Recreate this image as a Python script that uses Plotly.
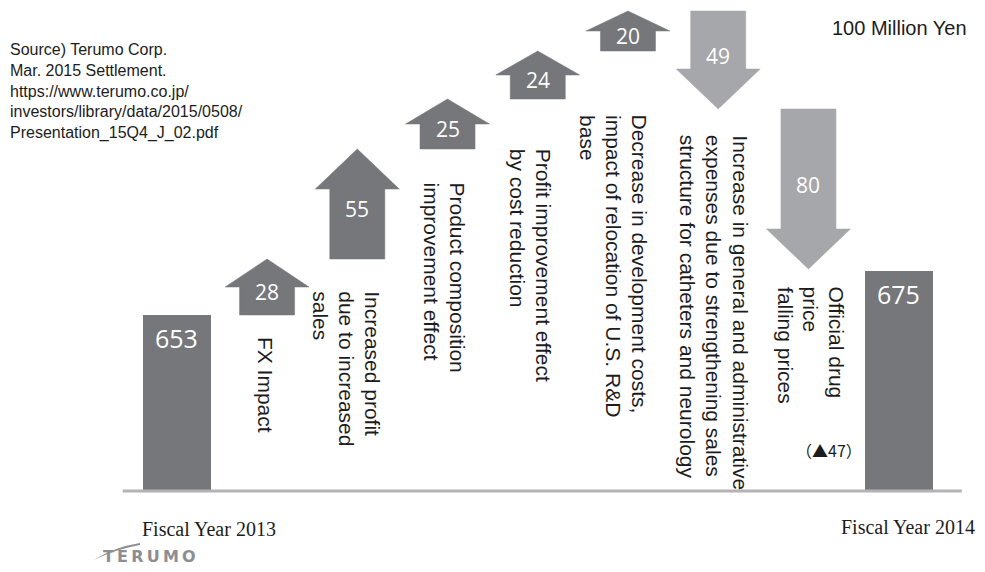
import plotly.graph_objects as go

# ---- data (100 million yen) ----
start_label = "Fiscal Year 2013"
end_label = "Fiscal Year 2014"
start_total = 653
end_total = 675
changes = [28, 55, 25, 24, 20, -49, -80]
change_lines = [
    ["FX Impact"],
    ["Increased profit", "due to increased", "sales"],
    ["Product composition", "improvement effect"],
    ["Profit improvement effect", "by cost reduction"],
    ["Decrease in development costs,", "impact of relocation of U.S. R&D", "base"],
    ["Increase in general and administrative",
     "expenses due to strengthening sales",
     "structure for catheters and neurology"],
    ["Official drug", "price", "falling prices"],
]
drug_price_note = "（▲47）"
unit_label = "100 Million Yen"
source_lines = [
    "Source) Terumo Corp.",
    "Mar. 2015 Settlement.",
    "https://www.terumo.co.jp/",
    "investors/library/data/2015/0508/",
    "Presentation_15Q4_J_02.pdf",
]
brand = "TERUMO"

# ---- styling / layout ----
W, H = 985, 572
DARK = "#76777b"
LIGHT = "#a6a7ab"
TEXT = "#1c1c1c"
FLOOR = 565            # value sitting on the drawn baseline
Y_RANGE = [524.5, 810.5]
X_RANGE = [-1.96, 8.957]
BAR_W = 0.754
BODY_HALF = 0.305
HEAD_HALF = 0.465
HEAD_LEN = 20
SANS = "Liberation Sans, Arial, sans-serif"
NUM_FONT = "Open Sans, sans-serif"
# per-label placement: first text column offset (px), gap below arrow (px)
col_offset = [-1, 15, 10, 6, 12, 22, 29]
top_gap = [20, 30, 31, 48, 62, 24, 16]
LINE_GAP = 26


def px_to_paper(px, py):
    return px / W, 1 - py / H


fig = go.Figure()

# totals at both ends
n = len(changes)
total_x = [0, n + 1]
total_y = [start_total, end_total]
fig.add_trace(go.Bar(
    x=total_x, y=[v - FLOOR for v in total_y], base=FLOOR, width=BAR_W,
    marker=dict(color=DARK, line=dict(width=0)), hoverinfo="skip",
))

annotations = []
for xv, v in zip(total_x, total_y):
    annotations.append(dict(
        x=xv, y=v, xref="x", yref="y", text=str(v), showarrow=False,
        yanchor="middle", yshift=-23,
        font=dict(family=NUM_FONT, size=25, color="white"),
    ))

# change arrows
level = start_total
for i, d in enumerate(changes):
    xc = i + 1
    y0, y1 = level, level + d
    sgn = 1 if d > 0 else -1
    h = min(abs(d) / 2, HEAD_LEN) * sgn
    yb = y1 - h
    xs = [xc - BODY_HALF, xc + BODY_HALF, xc + BODY_HALF, xc + HEAD_HALF, xc,
          xc - HEAD_HALF, xc - BODY_HALF, xc - BODY_HALF]
    ys = [y0, y0, yb, yb, y1, yb, yb, y0]
    color = DARK if d > 0 else LIGHT
    fig.add_trace(go.Scatter(
        x=xs, y=ys, mode="lines", fill="toself", fillcolor=color,
        line=dict(color=color, width=0.5), hoverinfo="skip",
    ))
    annotations.append(dict(
        x=xc, y=(y0 + y1) / 2, xref="x", yref="y", text=str(abs(d)),
        showarrow=False, yanchor="middle", yshift=-5 if d > 0 else 4,
        font=dict(family=NUM_FONT, size=21, color="white"),
    ))
    low = min(y0, y1)
    for j, line in enumerate(change_lines[i]):
        annotations.append(dict(
            x=xc, y=low, xref="x", yref="y", text=line, showarrow=False,
            textangle=90, xanchor="center", yanchor="top",
            xshift=col_offset[i] - j * LINE_GAP, yshift=-top_gap[i],
            font=dict(family=SANS, size=21, color=TEXT),
        ))
    level = y1

# baseline
fig.add_shape(type="line", xref="x", yref="y", x0=-0.6, x1=8.7, y0=FLOOR, y1=FLOOR,
              line=dict(color="#b3b3b5", width=3), layer="above")

# year captions
serif = dict(family="Liberation Serif, Times New Roman, serif", size=20, color=TEXT)
annotations.append(dict(x=0, y=FLOOR, xref="x", yref="y", text=start_label,
                        showarrow=False, xshift=32, yshift=-38, yanchor="middle",
                        font=serif))
annotations.append(dict(x=n + 1, y=FLOOR, xref="x", yref="y", text=end_label,
                        showarrow=False, xshift=9, yshift=-36, yanchor="middle",
                        font=serif))

# note under the drug price arrow
nx, ny = px_to_paper(864, 450)
annotations.append(dict(x=nx, y=ny, xref="paper", yref="paper", text=drug_price_note,
                        showarrow=False, xanchor="right", yanchor="middle",
                        font=dict(family="Noto Sans CJK JP, sans-serif", size=16,
                                  color=TEXT)))

# unit
ux, uy = px_to_paper(969, 28)
annotations.append(dict(x=ux, y=uy, xref="paper", yref="paper", text=unit_label,
                        showarrow=False, xanchor="right", yanchor="middle",
                        font=dict(family=SANS, size=20, color=TEXT)))

# source block
sx, sy = px_to_paper(8, 39)
annotations.append(dict(x=sx, y=sy, xref="paper", yref="paper",
                        text="<br>".join(source_lines), showarrow=False,
                        xanchor="left", yanchor="top", align="left",
                        font=dict(family=SANS, size=16, color=TEXT)))

# brand mark
bx, by = px_to_paper(101, 556)
annotations.append(dict(x=bx, y=by, xref="paper", yref="paper",
                        text="\u2009".join(brand), showarrow=False,
                        xanchor="left", yanchor="middle",
                        font=dict(family="DejaVu Sans, sans-serif", size=16,
                                  color="#8d8e91", weight="bold")))
p = [px_to_paper(*pt) for pt in [(94, 560), (114, 547), (140, 543), (140, 545), (116, 549)]]
path = "M {} {} Q {} {} {} {} L {} {} Q {} {} {} {} Z".format(
    p[0][0], p[0][1], p[1][0], p[1][1], p[2][0], p[2][1],
    p[3][0], p[3][1], p[4][0], p[4][1], p[0][0], p[0][1])
fig.add_shape(type="path", xref="paper", yref="paper", path=path,
              fillcolor="#8d8e91", line=dict(width=0))

fig.update_layout(
    width=W, height=H,
    margin=dict(l=0, r=0, t=0, b=0),
    paper_bgcolor="white", plot_bgcolor="white",
    showlegend=False,
    xaxis=dict(range=X_RANGE, visible=False, fixedrange=True),
    yaxis=dict(range=Y_RANGE, visible=False, fixedrange=True),
    annotations=annotations,
    bargap=0,
)

fig.write_html("out.html")
